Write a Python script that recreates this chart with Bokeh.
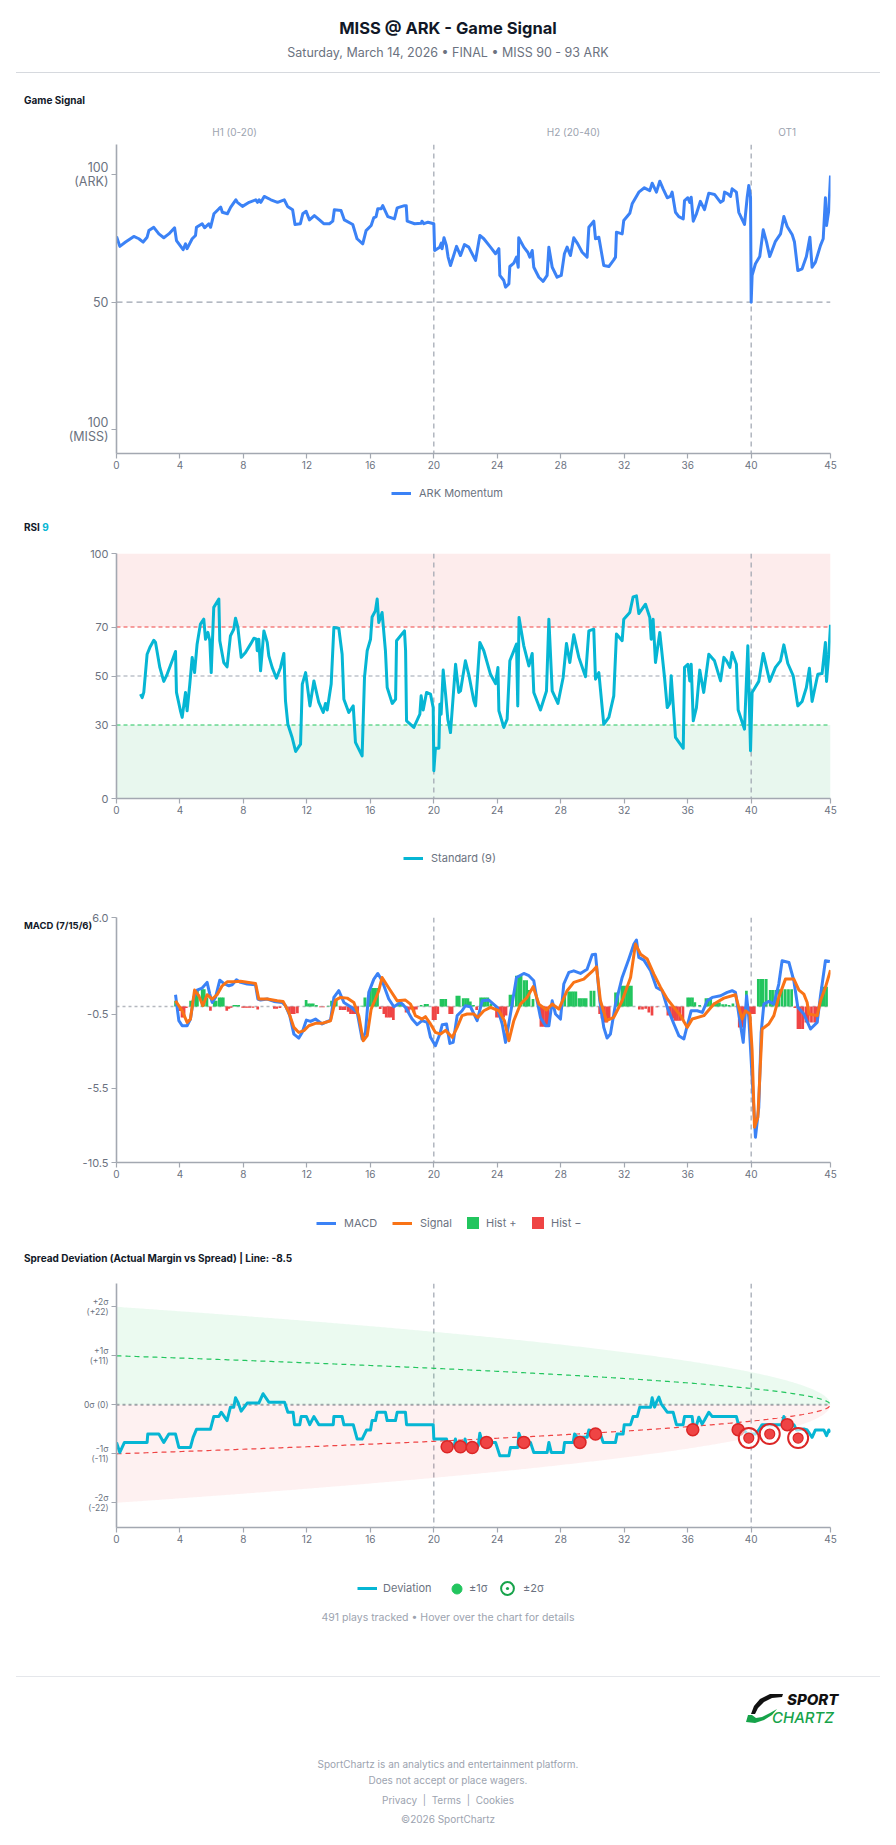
import numpy as np
from bokeh.plotting import figure
from bokeh.layouts import column
from bokeh.models import (Range1d, FixedTicker, Span, Legend, LegendItem, LinearAxis,
                          BoxAnnotation, PrintfTickFormatter, Div)
from bokeh.embed import file_html
from bokeh.resources import INLINE

# ---------------------------------------------------------------- data
TITLE = "MISS @ ARK - Game Signal"
SUBTITLE = "Saturday, March 14, 2026 \u2022 FINAL \u2022 MISS 90 - 93 ARK"
X_TICKS = [0, 4, 8, 12, 16, 20, 24, 28, 32, 36, 40, 45]
PERIOD_BREAKS = [20, 40]
PERIOD_LABELS = ["H1 (0-20)", "H2 (20-40)", "OT1"]
PERIOD_LABEL_X = [7.44, 28.8, 42.27]

MOMENTUM = [(0, 75.8), (0.21, 71.9), (0.57, 73.6), (0.88, 74.9), (1.09, 75.8), (1.41, 74.9), (1.68, 73.6),
            (1.93, 75.5), (2.04, 78.1), (2.35, 79.4), (2.67, 76.8), (2.98, 75.3), (3.30, 76.8), (3.66, 79.2),
            (3.78, 74.2), (4.20, 70.6), (4.35, 72.9), (4.45, 71.0), (4.77, 74.9), (4.98, 76.2), (5.04, 79.4),
            (5.40, 80.8), (5.55, 79.2), (5.82, 80.8), (5.93, 79.4), (6.14, 84.7), (6.46, 86.7), (6.57, 87.3),
            (6.67, 85.3), (6.99, 84.7), (7.20, 87.3), (7.52, 90.2), (7.62, 89.2), (7.94, 87.6), (8.36, 89.2),
            (8.78, 90.2), (8.89, 89.2), (8.99, 90.2), (9.10, 89.2), (9.31, 91.5), (9.73, 90.2), (10.15, 89.2),
            (10.57, 90.2), (10.78, 87.6), (11.10, 86.3), (11.25, 80.5), (11.59, 80.8), (11.74, 84.7),
            (11.95, 85.7), (12.16, 82.3), (12.47, 84.0), (12.79, 82.3), (13.06, 80.8), (13.42, 80.8),
            (13.63, 81.8), (13.73, 86.3), (14.15, 86.0), (14.36, 82.3), (14.89, 80.5), (15.16, 74.9),
            (15.52, 72.9), (15.73, 78.1), (16.05, 80.1), (16.21, 83.1), (16.36, 83.6), (16.47, 86.7),
            (16.68, 86.7), (16.78, 87.9), (17.10, 83.6), (17.52, 82.7), (17.69, 87.0), (18.15, 87.9),
            (18.26, 87.9), (18.32, 81.8), (18.79, 80.8), (19.21, 81.0), (19.25, 81.8), (19.38, 80.8),
            (19.63, 81.4), (20.00, 80.8), (20.05, 70.3), (20.37, 71.6), (20.47, 73.2), (20.52, 71.0),
            (20.64, 75.3), (20.79, 72.3), (20.90, 67.7), (21.05, 64.4), (21.43, 71.9), (21.68, 68.3),
            (21.93, 72.6), (22.20, 71.6), (22.63, 66.4), (22.90, 76.2), (23.15, 74.9), (23.57, 71.6),
            (23.89, 69.0), (24.10, 71.0), (24.16, 60.5), (24.41, 58.5), (24.52, 55.9), (24.73, 57.2),
            (24.79, 64.0), (25.04, 65.3), (25.21, 67.7), (25.32, 63.7), (25.35, 75.3), (25.67, 71.6),
            (25.92, 69.6), (26.05, 67.7), (26.20, 70.3), (26.30, 63.7), (26.62, 59.8), (26.89, 58.2),
            (27.14, 60.5), (27.25, 71.6), (27.46, 63.7), (27.77, 59.8), (28.03, 60.5), (28.23, 69.0),
            (28.40, 71.6), (28.61, 68.3), (28.82, 75.3), (29.07, 72.9), (29.35, 69.6), (29.66, 67.7),
            (29.77, 79.4), (30.08, 81.8), (30.19, 74.9), (30.40, 75.5), (30.71, 64.4), (31.03, 64.0),
            (31.34, 66.6), (31.45, 67.7), (31.51, 77.5), (31.87, 76.8), (31.97, 82.1), (32.35, 84.9),
            (32.50, 88.6), (32.92, 93.2), (33.27, 94.9), (33.61, 93.8), (33.76, 96.7), (34.03, 93.2),
            (34.24, 97.5), (34.45, 94.5), (34.71, 91.0), (34.91, 91.5), (35.02, 93.2), (35.23, 85.3),
            (35.44, 83.6), (35.72, 82.7), (35.80, 89.9), (36.01, 91.0), (36.13, 89.2), (36.22, 91.2),
            (36.35, 81.8), (36.55, 84.7), (36.80, 89.6), (37.06, 86.3), (37.33, 92.8), (37.69, 92.3),
            (38.07, 89.2), (38.24, 89.9), (38.32, 93.2), (38.53, 92.5), (38.70, 91.5), (38.80, 94.5),
            (39.07, 93.2), (39.22, 85.3), (39.58, 80.5), (39.75, 91.2), (39.85, 95.8), (39.96, 91.2),
            (40.00, 50.0), (40.06, 60.5), (40.27, 65.1), (40.54, 67.9), (40.76, 78.4), (40.97, 73.6),
            (41.17, 67.9), (41.53, 73.9), (41.85, 76.8), (42.06, 83.6), (42.27, 79.7), (42.58, 76.6),
            (42.73, 73.6), (42.94, 62.4), (43.21, 63.1), (43.48, 67.9), (43.70, 75.5), (43.84, 63.7),
            (44.05, 65.7), (44.37, 72.3), (44.54, 74.9), (44.68, 91.0), (44.75, 80.1), (44.89, 86.0),
            (45.00, 99.7)]

RSI = [(1.51, 42.6), (1.62, 41.2), (1.72, 43.3), (1.93, 58.9), (2.10, 61.6), (2.35, 64.6), (2.46, 63.7),
       (2.73, 53.5), (2.98, 47.8), (3.19, 50.7), (3.51, 56.2), (3.72, 60.0), (3.78, 43.3), (4.03, 35.8),
       (4.14, 33.1), (4.35, 43.3), (4.45, 35.8), (4.62, 46.7), (4.77, 57.6), (4.92, 51.4), (5.08, 63.0),
       (5.29, 71.2), (5.50, 73.2), (5.61, 65.0), (5.76, 67.8), (5.88, 64.4), (5.97, 51.4), (6.13, 78.0),
       (6.45, 81.4), (6.51, 64.4), (6.76, 55.5), (6.97, 53.7), (7.18, 66.4), (7.39, 69.1), (7.50, 73.6),
       (7.65, 69.8), (7.86, 57.6), (8.13, 59.6), (8.45, 63.0), (8.66, 65.4), (8.82, 65.0), (8.87, 60.3),
       (8.97, 65.0), (9.08, 52.1), (9.29, 68.4), (9.50, 63.7), (9.60, 58.2), (9.81, 53.5), (10.08, 49.1),
       (10.34, 53.5), (10.55, 59.2), (10.65, 39.9), (10.80, 30.3), (11.07, 24.9), (11.29, 19.2),
       (11.60, 22.2), (11.71, 46.7), (11.92, 51.4), (12.19, 37.8), (12.44, 48.0), (12.75, 39.2),
       (13.03, 35.1), (13.17, 38.8), (13.28, 36.1), (13.53, 46.7), (13.70, 69.8), (14.01, 69.5),
       (14.22, 58.9), (14.33, 40.5), (14.64, 35.1), (14.92, 37.8), (15.06, 22.9), (15.48, 17.4),
       (15.63, 49.4), (15.80, 60.3), (16.01, 65.0), (16.11, 74.1), (16.32, 76.6), (16.43, 81.4),
       (16.53, 71.8), (16.74, 75.9), (16.95, 60.3), (17.06, 45.3), (17.38, 38.8), (17.59, 40.5),
       (17.65, 64.4), (18.15, 68.4), (18.22, 60.3), (18.28, 31.7), (18.74, 29.0), (18.95, 32.0),
       (19.12, 34.4), (19.20, 41.9), (19.33, 36.1), (19.54, 43.3), (19.79, 42.6), (19.96, 37.1),
       (20.00, 11.3), (20.10, 20.5), (20.32, 20.5), (20.38, 38.5), (20.46, 34.4), (20.59, 52.4),
       (20.74, 42.6), (20.88, 32.4), (21.05, 26.9), (21.37, 54.8), (21.57, 43.3), (21.68, 43.9),
       (21.99, 56.2), (22.20, 50.7), (22.52, 39.9), (22.63, 37.8), (22.90, 63.7), (23.15, 60.3),
       (23.57, 50.7), (23.89, 46.9), (24.04, 53.5), (24.10, 35.8), (24.41, 29.0), (24.62, 32.4),
       (24.79, 56.2), (25.21, 63.0), (25.29, 37.8), (25.37, 73.9), (25.67, 62.3), (25.99, 54.1),
       (26.20, 59.2), (26.30, 43.3), (26.72, 36.1), (27.10, 43.9), (27.25, 73.2), (27.46, 43.9),
       (27.82, 38.8), (28.15, 49.4), (28.36, 63.3), (28.57, 55.5), (28.82, 66.8), (29.14, 57.6),
       (29.56, 49.7), (29.77, 68.4), (30.08, 69.1), (30.19, 48.7), (30.40, 51.4), (30.71, 30.3),
       (31.03, 33.1), (31.34, 41.9), (31.51, 67.1), (31.87, 64.4), (31.97, 73.2), (32.35, 75.9),
       (32.56, 82.3), (32.77, 82.7), (32.92, 75.5), (33.34, 79.3), (33.61, 73.9), (33.70, 65.0),
       (33.82, 73.2), (33.97, 55.5), (34.24, 67.8), (34.54, 49.4), (34.71, 37.1), (34.87, 38.8),
       (34.96, 50.1), (35.23, 24.9), (35.72, 20.5), (35.80, 53.5), (36.01, 54.8), (36.13, 48.0),
       (36.22, 54.8), (36.35, 31.7), (36.55, 37.1), (36.76, 52.4), (37.01, 43.3), (37.33, 58.9),
       (37.69, 56.2), (38.07, 48.0), (38.28, 57.6), (38.45, 56.2), (38.66, 53.5), (38.80, 59.6),
       (39.07, 54.8), (39.18, 36.1), (39.58, 28.3), (39.79, 62.3), (39.96, 19.5), (40.06, 43.3),
       (40.48, 47.8), (40.76, 59.2), (41.17, 47.8), (41.53, 53.5), (41.85, 56.2), (42.06, 62.7),
       (42.31, 55.1), (42.65, 50.1), (42.94, 37.8), (43.21, 39.6), (43.48, 45.3), (43.67, 53.2),
       (43.84, 39.6), (44.20, 50.7), (44.47, 51.0), (44.68, 63.7), (44.75, 47.8), (44.89, 58.9),
       (45.00, 70.9)]

MACD = [(3.72, 0.80), (3.82, -0.05), (3.93, -0.95), (4.14, -1.29), (4.45, -1.29), (4.66, -0.84), (4.87, 0.62),
        (5.08, 1.11), (5.40, 1.25), (5.71, 1.63), (5.88, 0.84), (6.03, 0.28), (6.24, 0.62), (6.51, 1.78),
        (6.76, 1.56), (7.08, 1.40), (7.29, 1.47), (7.56, 1.81), (7.82, 1.63), (8.24, 1.52), (8.76, 1.47),
        (8.91, 0.51), (9.08, 0.44), (9.50, 0.51), (9.92, 0.35), (10.44, 0.28), (10.65, 0.06), (10.92, -0.61),
        (11.18, -1.85), (11.49, -2.12), (11.70, -1.74), (11.97, -0.91), (12.23, -1.00), (12.54, -0.84),
        (12.96, -1.17), (13.49, -0.91), (13.70, 0.62), (14.01, 1.07), (14.33, 0.28), (14.75, -0.01),
        (15.17, -0.39), (15.48, -2.18), (15.69, -1.74), (15.90, 0.96), (16.22, 1.85), (16.47, 2.23),
        (16.74, 1.74), (17.16, 0.51), (17.48, -0.01), (17.90, 0.28), (18.21, -0.05), (18.63, -0.84),
        (18.95, -1.22), (19.26, -0.95), (19.58, -1.06), (19.79, -2.07), (20.10, -2.63), (20.38, -1.85),
        (20.53, -1.22), (20.80, -1.17), (21.01, -2.48), (21.22, -2.41), (21.47, -0.61), (21.78, -0.28),
        (21.99, 0.06), (22.31, -0.01), (22.73, -0.95), (23.05, 0.39), (23.47, 0.44), (23.99, -0.05),
        (24.31, -1.17), (24.52, -2.41), (24.83, -0.50), (25.21, 1.96), (25.67, 2.23), (25.99, 2.08),
        (26.30, 1.74), (26.51, 0.39), (26.72, -0.73), (27.04, -1.29), (27.25, -1.29), (27.46, 0.39),
        (27.67, -0.50), (27.98, -0.84), (28.19, 1.52), (28.51, 2.30), (28.82, 2.41), (29.24, 2.23),
        (29.66, 2.52), (29.98, 3.49), (30.19, 3.53), (30.46, 0.39), (30.71, -1.40), (30.92, -2.12),
        (31.13, -1.85), (31.45, 0.17), (31.87, 1.96), (32.29, 3.20), (32.61, 4.21), (32.77, 4.48),
        (32.92, 3.31), (33.24, 3.13), (33.66, 2.41), (34.03, 1.29), (34.39, 1.07), (34.71, -0.05),
        (35.13, -1.17), (35.44, -1.96), (35.76, -2.18), (35.97, -1.29), (36.22, -0.28), (36.60, -0.28),
        (36.92, -0.39), (37.23, 0.39), (37.55, 0.62), (38.07, 0.73), (38.49, 0.96), (38.80, 1.07),
        (39.01, 0.96), (39.22, -0.50), (39.50, -2.41), (39.71, 0.73), (39.85, -0.73), (40.06, -4.76),
        (40.27, -8.80), (40.48, -6.78), (40.63, -1.74), (40.80, 0.17), (41.11, 0.35), (41.43, 0.17),
        (41.74, 1.52), (41.95, 3.09), (42.38, 2.97), (42.69, 1.74), (42.94, -0.05), (43.32, -0.50),
        (43.74, -1.51), (44.16, -1.06), (44.37, 0.73), (44.68, 3.09), (44.96, 3.04)]

SIGNAL = [(3.72, 0.39), (4.14, -0.28), (4.45, -1.06), (4.66, -0.84), (4.92, 1.11), (5.19, 0.73), (5.44, 0.06),
          (5.71, 0.80), (6.03, 0.51), (6.34, 0.80), (6.66, 1.40), (6.97, 1.67), (7.39, 1.67), (7.82, 1.70),
          (8.34, 1.63), (8.76, 1.56), (8.97, 0.51), (9.50, 0.51), (10.13, 0.39), (10.50, 0.35), (10.86, -0.39),
          (11.18, -1.40), (11.49, -1.74), (11.81, -1.62), (12.12, -1.29), (12.54, -1.13), (12.96, -1.13),
          (13.49, -0.95), (13.80, 0.44), (14.12, 0.62), (14.54, 0.57), (14.96, 0.28), (15.27, -0.61),
          (15.55, -2.30), (15.80, -1.96), (16.05, -0.17), (16.32, 0.51), (16.53, 1.07), (16.74, 1.96),
          (17.16, 1.25), (17.69, 0.39), (18.21, 0.44), (18.53, 0.17), (18.84, -0.61), (19.26, -0.84),
          (19.47, -0.68), (19.79, -1.17), (20.10, -1.74), (20.42, -1.85), (20.74, -1.60), (21.16, -2.07),
          (21.47, -1.40), (21.78, -0.61), (22.10, -0.50), (22.52, -0.50), (22.77, -0.73), (23.15, -0.28),
          (23.57, -0.05), (24.10, -0.28), (24.45, -0.95), (24.73, -2.30), (25.04, -0.95), (25.46, 0.17),
          (25.88, 0.62), (26.26, 1.34), (26.62, 0.17), (27.10, -0.23), (27.46, 0.17), (27.88, -0.17),
          (28.40, 1.07), (28.82, 1.63), (29.45, 1.85), (29.98, 2.37), (30.25, 2.68), (30.50, 0.39),
          (30.88, -0.95), (31.34, -0.73), (31.87, 0.39), (32.40, 1.96), (32.71, 4.21), (33.03, 3.53),
          (33.45, 3.20), (33.87, 2.19), (34.29, 1.29), (34.71, 0.51), (35.13, -0.05), (35.55, -0.61),
          (35.97, -1.40), (36.29, -0.84), (37.02, -0.61), (37.65, 0.17), (38.28, 0.57), (39.01, 0.80),
          (39.22, -0.05), (39.43, -0.84), (39.64, -0.28), (39.92, -0.50), (40.06, -2.97), (40.21, -8.13),
          (40.42, -7.45), (40.69, -1.51), (41.11, -1.17), (41.43, -0.61), (41.74, 0.62), (42.16, 1.85),
          (42.69, 1.85), (43.01, 1.11), (43.32, 0.84), (43.53, 0.28), (43.63, -0.50), (44.16, -0.61),
          (44.37, 0.39), (44.68, 1.29), (45.00, 2.46)]

HIST = [(3.72, 0.39), (3.99, -0.30), (4.13, -0.73), (4.26, -0.73), (4.40, -0.10), (4.67, 0.39), (4.80, 0.39),
        (4.99, 1.10), (5.10, 1.10), (5.40, 1.17), (5.53, 1.17), (5.70, 0.62), (5.92, -0.28), (6.16, 0.39),
        (6.28, 0.39), (6.47, 0.62), (6.60, 0.62), (6.73, 0.62), (6.95, -0.28), (7.08, -0.15), (7.22, -0.08),
        (7.40, 0.10), (7.55, 0.10), (7.70, 0.10), (7.95, -0.08), (8.10, -0.08), (8.25, -0.08), (8.40, -0.08),
        (8.60, -0.08), (8.90, -0.20), (9.95, -0.15), (10.10, -0.15), (10.30, -0.10), (10.90, -0.50),
        (11.05, -0.50), (11.20, -0.50), (11.40, -0.45), (11.95, 0.44), (12.10, 0.21), (12.25, 0.21),
        (12.40, 0.21), (12.60, 0.10), (12.85, -0.05), (13.05, -0.05), (13.35, 0.05), (13.55, 0.39),
        (13.70, 0.39), (13.85, 0.44), (14.10, -0.23), (14.25, -0.23), (14.40, -0.23), (14.60, -0.35),
        (14.75, -0.50), (14.90, -0.50), (15.05, -0.50), (15.20, -0.50), (15.45, 0.05), (15.65, 0.62),
        (15.85, 0.62), (16.00, 1.25), (16.15, 1.25), (16.30, 1.25), (16.45, 1.25), (16.62, -0.17),
        (16.85, -0.50), (17.00, -0.73), (17.15, -0.73), (17.30, -0.73), (17.45, -0.90), (17.75, 0.28),
        (17.90, 0.28), (18.05, 0.20), (18.25, -0.39), (18.40, -0.39), (18.55, -0.20), (18.75, -0.39),
        (18.90, -0.20), (19.20, 0.10), (19.45, 0.17), (19.60, 0.17), (19.95, -0.90), (20.10, -0.90),
        (20.25, -0.50), (20.45, 0.51), (20.60, 0.51), (20.75, 0.51), (21.00, -0.50), (21.15, -0.50),
        (21.45, 0.73), (21.60, 0.73), (21.85, 0.57), (22.00, 0.57), (22.15, 0.57), (22.30, 0.35),
        (22.50, 0.10), (22.70, -0.23), (22.95, 0.62), (23.10, 0.62), (23.25, 0.62), (23.40, 0.62),
        (23.60, 0.20), (23.95, -0.73), (24.10, -0.73), (24.25, -0.73), (24.40, -0.73), (24.55, -0.60),
        (24.80, 0.80), (24.95, 0.80), (25.20, 2.07), (25.35, 2.07), (25.50, 2.07), (25.70, 1.78),
        (25.85, 1.78), (26.00, 1.11), (26.25, 0.51), (26.75, -1.35), (26.90, -1.35), (27.05, -1.35),
        (27.20, -1.35), (27.45, 0.10), (27.70, -0.10), (28.25, 0.73), (28.50, 1.02), (28.65, 1.02),
        (28.80, 1.02), (28.95, 1.02), (29.15, 0.57), (29.30, 0.57), (29.45, 0.57), (29.60, 0.57),
        (29.90, 1.07), (30.10, 1.07), (30.45, -0.50), (30.60, -0.80), (30.75, -1.07), (30.90, -1.07),
        (31.05, -0.80), (31.45, 0.95), (31.60, 0.95), (31.85, 1.40), (32.00, 1.40), (32.15, 1.40),
        (32.30, 1.40), (32.45, 1.40), (32.95, -0.20), (33.15, -0.20), (33.35, -0.15), (33.55, -0.40),
        (33.75, -0.60), (34.05, -0.05), (34.75, -0.60), (34.90, -0.60), (35.05, -0.80), (35.20, -0.95),
        (35.35, -0.95), (35.50, -0.95), (35.70, -0.95), (36.00, 0.62), (36.15, 0.62), (36.30, 0.62),
        (36.45, 0.30), (36.75, 0.10), (37.15, 0.57), (37.30, 0.57), (37.45, 0.57), (37.70, 0.28),
        (37.85, 0.28), (38.00, 0.28), (38.20, 0.15), (38.40, 0.15), (38.60, 0.10), (38.85, 0.20),
        (39.25, -1.40), (39.40, -1.40), (39.55, -1.40), (39.70, 1.07), (39.90, -0.50), (40.05, -0.50),
        (40.20, -0.50), (40.45, 1.85), (40.60, 1.85), (40.75, 1.85), (40.95, 1.85), (41.20, 1.11),
        (41.35, 1.11), (41.55, 1.11), (41.75, 1.17), (41.95, 1.17), (42.15, 1.17), (42.35, 1.17),
        (42.55, 1.17), (42.75, -0.10), (42.95, -1.51), (43.10, -1.51), (43.25, -1.51), (43.45, -1.07),
        (43.60, -1.07), (43.80, -1.07), (44.00, -1.07), (44.15, -1.07), (44.45, 1.33), (44.60, 1.33),
        (44.75, 1.33)]

SPREAD_LINE = -8.5
SIGMA0 = 11.0
GAME_LEN = 45.0
DEVIATION = [(0, -8.44), (0.21, -10.7), (0.5, -8.44), (1.93, -8.44), (1.97, -6.56), (2.67, -6.56), (2.98, -8.44),
             (3.3, -6.56), (3.72, -6.56), (3.93, -9.57), (4.66, -9.57), (4.83, -7.31), (5.04, -5.5), (5.92, -5.5),
             (6.13, -2.64), (6.45, -2.64), (6.6, -1.66), (6.97, -3.54), (7.18, -0.53), (7.39, -0.53), (7.5, 1.58),
             (7.65, 0.6), (7.86, -1.43), (8.24, 0.38), (8.97, 0.38), (9.24, 2.49), (9.6, 0.6), (10.59, 0.6),
             (10.8, -1.66), (11.13, -1.66), (11.22, -4.45), (11.55, -4.45), (11.64, -2.64), (11.97, -2.64),
             (12.18, -4.45), (12.44, -2.64), (12.75, -4.45), (13.66, -4.45), (13.7, -2.64), (14.22, -2.64),
             (14.33, -4.45), (14.92, -4.45), (15.17, -7.69), (15.48, -7.69), (15.76, -5.65), (16.01, -5.65),
             (16.11, -3.54), (16.32, -3.54), (16.43, -1.66), (16.95, -1.66), (17.06, -3.54), (17.58, -3.54),
             (17.69, -1.66), (18.21, -1.66), (18.28, -4.45), (19.96, -4.45), (20.0, -7.69), (20.8, -7.69),
             (20.9, -9.2), (21.3, -9.2), (21.36, -7.69), (21.45, -9.2), (21.9, -9.2), (21.97, -7.69),
             (22.05, -9.2), (22.8, -9.2), (22.9, -6.4), (23.05, -8.44), (23.89, -8.44), (24.16, -11.45),
             (24.73, -11.45), (24.83, -9.57), (25.3, -9.57), (25.36, -6.4), (25.57, -8.44), (26.09, -8.44),
             (26.3, -10.7), (27.14, -10.7), (27.25, -8.44), (27.4, -10.7), (28.16, -10.7), (28.24, -8.44),
             (28.78, -8.44), (28.87, -6.56), (29.03, -7.31), (29.66, -7.31), (29.77, -5.65), (30.5, -6.56),
             (30.67, -8.44), (31.45, -8.44), (31.55, -6.56), (31.93, -6.56), (32.0, -4.45), (32.4, -4.45),
             (32.56, -2.64), (32.82, -2.64), (32.98, -0.53), (33.66, -0.53), (33.76, 1.58), (33.91, -0.53),
             (34.03, 0.6), (34.18, 1.73), (34.33, 0.23), (34.71, -1.66), (35.08, -1.66), (35.29, -4.45),
             (35.71, -4.45), (35.8, -2.64), (36.28, -2.64), (36.35, -4.67), (36.55, -4.67), (36.7, -2.79),
             (36.91, -4.3), (37.06, -3.39), (37.33, -1.66), (37.55, -2.64), (39.07, -2.64), (39.22, -4.67),
             (39.5, -5.5), (39.75, -6.56), (40.27, -6.56), (40.48, -5.65), (40.69, -4.45), (41.95, -4.45),
             (42.06, -2.64), (42.17, -4.45), (42.69, -4.45), (42.86, -5.65), (43.32, -5.43), (43.53, -5.65),
             (43.84, -7.31), (44.05, -5.65), (44.58, -5.65), (44.75, -6.93), (44.89, -5.65), (45.0, -6.18)]
OUTLIERS_1SIG = [(20.84, -9.42), (21.68, -9.42), (22.42, -9.57), (23.32, -8.44), (25.67, -8.44),
                 (29.21, -8.44), (30.19, -6.56), (36.32, -5.58), (39.18, -5.58), (42.27, -4.45)]
OUTLIERS_2SIG = [(39.85, -7.46), (41.17, -6.56), (42.96, -7.46)]
PLAYS_TRACKED = 491

# ---------------------------------------------------------------- style
FONT = "Inter"
W = 896
FL, FR = 116, 830          # frame left / right (px)
AXIS_C = "#a3a8b1"
TICK_C = "#6b7280"
GRID_DASH = "#9ca3af"
BLUE = "#3b82f6"
CYAN = "#06b6d4"
ORANGE = "#f97316"
GREEN = "#22c55e"
RED = "#ef4444"
NAN = np.array([np.nan])


def split(pairs):
    a = np.array(pairs, dtype=float)
    return a[:, 0], a[:, 1]


def make_chart(h, top, bottom, y0, y1, yticks, overrides, ysize, yline_h=1.2):
    p = figure(width=W, height=h, x_range=Range1d(0, 45), y_range=Range1d(y0, y1),
               min_border_left=FL, min_border_right=W - FR, min_border_top=top,
               min_border_bottom=bottom, toolbar_location=None, output_backend="svg")
    p.outline_line_color = None
    p.grid.visible = False
    p.background_fill_color = "white"
    p.border_fill_color = "white"
    for ax in (p.xaxis[0], p.yaxis[0]):
        ax.axis_line_color = AXIS_C
        ax.axis_line_width = 1.6
        ax.major_tick_line_color = AXIS_C
        ax.major_tick_line_width = 1.2
        ax.major_tick_out = 5
        ax.major_tick_in = 0
        ax.minor_tick_out = 0
        ax.minor_tick_in = 0
        ax.major_label_text_font = FONT
        ax.major_label_text_color = TICK_C
    p.xaxis.ticker = FixedTicker(ticks=X_TICKS)
    p.xaxis.major_label_text_font_size = "10px"
    p.xaxis.major_label_standoff = 2
    p.yaxis.ticker = FixedTicker(ticks=yticks)
    if overrides:
        p.yaxis.major_label_overrides = overrides
    p.yaxis.major_label_text_font_size = ysize
    p.yaxis.major_label_text_line_height = yline_h
    p.yaxis.major_label_standoff = 3
    return p


def period_spans(p):
    for b in PERIOD_BREAKS:
        p.add_layout(Span(location=b, dimension="height", line_color=GRID_DASH,
                          line_dash="5 4", line_width=1.2, level="underlay"))


def legend_strip(h, cy, entries):
    """A thin plot holding legend rows; entries = (label, kind, style, left_px, glyph, standoff)."""
    p = figure(width=W, height=h, x_range=Range1d(0, 1), y_range=Range1d(0, 1),
               min_border_left=FL, min_border_right=W - FR, min_border_top=0, min_border_bottom=0,
               toolbar_location=None, output_backend="svg", x_axis_location=None, y_axis_location=None)
    p.grid.visible = False
    p.outline_line_color = None
    p.background_fill_color = "white"
    p.border_fill_color = "white"
    for label, kind, style, left_px, (gw, gh), standoff in entries:
        if kind == "line":
            r = p.line(NAN, NAN, **style)
        elif kind == "bar":
            r = p.vbar(x=NAN, top=NAN, bottom=0, width=0.1, **style)
        else:
            r = p.scatter(NAN, NAN, **style)
        leg = Legend(items=[LegendItem(label=label, renderers=[r])],
                     location=(left_px - FL, h - cy - gh / 2.0),
                     orientation="horizontal", glyph_width=gw, glyph_height=gh, label_height=gh,
                     label_standoff=standoff, padding=0, margin=0, spacing=0,
                     border_line_color=None, background_fill_alpha=0,
                     label_text_font=FONT, label_text_font_size="11px", label_text_color="#6b7280")
        p.add_layout(leg)
    return p


def strip(h, html, margin=(0, 0, 0, 0)):
    return Div(width=W, height=h, margin=margin,
               text='<div style="position:relative;width:%dpx;height:%dpx;font-family:Inter,'
                    'sans-serif;">%s</div>' % (W, h, html))


def at(left, cy, text, size, color, weight=400, lh=16, extra=""):
    return ('<div style="position:absolute;left:%spx;top:%spx;line-height:%dpx;font-size:%s;'
            'font-weight:%d;color:%s;white-space:nowrap;%s">%s</div>'
            % (left, cy - lh / 2.0, lh, size, weight, color, extra, text))


def centered(cy, text, size, color, weight=400, lh=16):
    return ('<div style="position:absolute;left:0;width:%dpx;text-align:center;top:%spx;'
            'line-height:%dpx;font-size:%s;font-weight:%d;color:%s;white-space:nowrap;">%s</div>'
            % (W, cy - lh / 2.0, lh, size, weight, color, text))


def hrule(y, color):
    return ('<div style="position:absolute;left:16px;width:864px;top:%spx;height:1px;'
            'background:%s;"></div>' % (y, color))


LINE3 = dict(line_width=3)

# ---------------------------------------------------------------- header (0..110)
header = strip(110,
               centered(28, TITLE, "16.5px", "#111827", 700, 20)
               + centered(53, SUBTITLE, "12.5px", "#6b7280", 400, 16)
               + hrule(71.5, "#d6d9de")
               + at(24, 100, "Game Signal", "10px", "#111827", 700, 14))

# ---------------------------------------------------------------- chart 1: momentum (110..475)
p1 = make_chart(365, 34, 22, -9.4, 111.9, [0, 50, 100],
                {0: "100\n(MISS)", 50: "50", 100: "100\n(ARK)"}, "12.5px", 0.95)
p1.add_layout(Span(location=50, dimension="width", line_color=GRID_DASH, line_dash="6 4",
                   line_width=1.2, level="underlay"))
period_spans(p1)
mt, mv = split(MOMENTUM)
p1.line(mt, mv, line_color=BLUE, line_width=3, line_join="round")
period_axis = LinearAxis(ticker=FixedTicker(ticks=PERIOD_LABEL_X),
                         major_label_overrides={x: t for x, t in zip(PERIOD_LABEL_X, PERIOD_LABELS)},
                         axis_line_color=None, major_tick_line_color=None, minor_tick_line_color=None,
                         major_tick_out=0, major_tick_in=0, minor_tick_out=0, minor_tick_in=0,
                         major_label_standoff=7, major_label_text_font=FONT,
                         major_label_text_font_size="10px", major_label_text_color="#9ca3af")
p1.add_layout(period_axis, "above")
leg1 = legend_strip(37, 18.3, [("ARK Momentum", "line", dict(line_color=BLUE, **LINE3), 391, (20, 14), 8)])

# ---------------------------------------------------------------- RSI title strip (512..540)
rsi_title = strip(28, at(24, 15, 'RSI <span style="color:%s">9</span>' % CYAN, "10px", "#111827", 700, 14))

# ---------------------------------------------------------------- chart 2: RSI (540..820)
p2 = make_chart(280, 13, 22, 0, 100, [0, 30, 50, 70, 100], None, "11px")
p2.add_layout(BoxAnnotation(bottom=70, top=100, fill_color="#fdecec", fill_alpha=1,
                            line_color=None, level="underlay"))
p2.add_layout(BoxAnnotation(bottom=0, top=30, fill_color="#e8f7ee", fill_alpha=1,
                            line_color=None, level="underlay"))
for lvl, col in ((70, RED), (50, GRID_DASH), (30, GREEN)):
    p2.add_layout(Span(location=lvl, dimension="width", line_color=col, line_dash="4 3",
                       line_width=1.2, level="underlay"))
period_spans(p2)
rt, rv = split(RSI)
p2.line(rt, rv, line_color=CYAN, line_width=3, line_join="round")
leg2 = legend_strip(80, 38.3, [("Standard (9)", "line", dict(line_color=CYAN, **LINE3), 403, (20, 14), 8)])

# ---------------------------------------------------------------- chart 3: MACD (900..1184)
p3 = make_chart(284, 17, 22, -10.5, 6.0, [-10.5, -5.5, -0.5, 6.0], None, "11px")
p3.yaxis.formatter = PrintfTickFormatter(format="%.1f")
p3.add_layout(Span(location=0, dimension="width", line_color="#b4b8bf", line_dash="3 3",
                   line_width=1.5, level="underlay"))
period_spans(p3)
ht, hv = split(HIST)
pos = hv >= 0
p3.vbar(x=ht[pos], top=hv[pos], bottom=0, width=0.17, fill_color=GREEN, line_color=None)
p3.vbar(x=ht[~pos], top=0, bottom=hv[~pos], width=0.17, fill_color=RED, line_color=None)
ct, cv = split(MACD)
st, sv = split(SIGNAL)
p3.line(ct, cv, line_color=BLUE, line_width=3, line_join="round")
p3.line(st, sv, line_color=ORANGE, line_width=3, line_join="round")
# section label drawn over the top-left corner of the MACD chart (no net height)
macd_title = strip(30, at(24, 25.5, "MACD (7/15/6)", "9.5px", "#111827", 700, 13), margin=(-284, 0, 254, 0))
leg3 = legend_strip(56, 38.7, [
    ("MACD", "line", dict(line_color=BLUE, **LINE3), 316, (20, 14), 8),
    ("Signal", "line", dict(line_color=ORANGE, **LINE3), 392, (20, 14), 8),
    ("Hist +", "bar", dict(fill_color=GREEN, line_color=None), 465, (15, 15), 6),
    ("Hist \u2212", "bar", dict(fill_color=RED, line_color=None), 530, (15, 15), 6)])

# ---------------------------------------------------------------- spread title strip (1240..1270)
spread_title = strip(30, at(24, 17.5, "Spread Deviation (Actual Margin vs Spread) | Line: %s" % SPREAD_LINE,
                            "10px", "#111827", 700, 14))

# ---------------------------------------------------------------- chart 4: spread deviation (1270..1549)
p4 = make_chart(279, 13, 22, -27.55, 27.24, [-22, -11, 0, 11, 22],
                {22: "+2\u03c3\n(+22)", 11: "+1\u03c3\n(+11)", 0: "0\u03c3 (0)",
                 -11: "-1\u03c3\n(-11)", -22: "-2\u03c3\n(-22)"}, "8.5px", 0.95)
p4.add_layout(Span(location=0, dimension="width", line_color="#a3a8b1", line_dash="3 3",
                   line_width=2, level="underlay"))
period_spans(p4)
band_t = np.linspace(0, GAME_LEN, 361)
sig = SIGMA0 * np.sqrt((GAME_LEN - band_t) / GAME_LEN)
p4.varea(x=band_t, y1=0, y2=2 * sig, fill_color=GREEN, fill_alpha=0.09)
p4.varea(x=band_t, y1=-2 * sig, y2=0, fill_color=RED, fill_alpha=0.075)
p4.line(band_t, sig, line_color=GREEN, line_dash="5 4", line_width=1.2)
p4.line(band_t, -sig, line_color=RED, line_dash="5 4", line_width=1.2)
dt, dv = split(DEVIATION)
p4.line(dt, dv, line_color=CYAN, line_width=3, line_join="round")
o1t, o1v = split(OUTLIERS_1SIG)
p4.scatter(o1t, o1v, size=12, marker="circle", fill_color=RED, line_color="#dc2626", line_width=1.5)
o2t, o2v = split(OUTLIERS_2SIG)
p4.scatter(o2t, o2v, size=20, marker="circle", fill_color="white", fill_alpha=0.6,
           line_color="#dc2626", line_width=2)
p4.scatter(o2t, o2v, size=10, marker="circle", fill_color=RED, line_color="#dc2626", line_width=1.2)
leg4 = legend_strip(57, 39, [
    ("Deviation", "line", dict(line_color=CYAN, **LINE3), 357, (20, 14), 6),
    ("\u00b11\u03c3", "scatter", dict(marker="circle", fill_color=GREEN, line_color=GREEN), 444, (25, 25), 0),
    ("\u00b12\u03c3", "scatter", dict(marker="circle_dot", fill_color="white", line_color="#16a34a",
                                       line_width=2), 491, (32, 32), 0)])

# ---------------------------------------------------------------- footer (1606..1845)
logo_svg = ('<svg style="position:absolute;left:744px;top:85px;" width="40" height="36">'
            '<polygon points="26,3 39,3 38,6 28,7 20,11 14,17 11,23 7,23 10,15 16,8" fill="#111111"/>'
            '<polygon points="2,31 4,24 8,24 12,27 18,26 26,22 33,18 28,24 20,29 11,32" fill="#16a34a"/>'
            '</svg>')
footer = strip(239,
               centered(12.3, "%d plays tracked \u2022 Hover over the chart for details" % PLAYS_TRACKED,
                        "10.5px", "#9ca3af", 400, 14)
               + hrule(69.7, "#e5e7eb")
               + logo_svg
               + at(787, 93.5, "SPORT", "15px", "#111111", 800, 14, "font-style:italic;")
               + at(772, 111.5, "CHARTZ", "15px", "#16a34a", 500, 14, "font-style:italic;")
               + centered(157.7, "SportChartz is an analytics and entertainment platform.", "10px", "#9ca3af", 400, 14)
               + centered(173.7, "Does not accept or place wagers.", "10px", "#9ca3af", 400, 14)
               + centered(193.7, "Privacy &nbsp;|&nbsp; Terms &nbsp;|&nbsp; Cookies", "10px", "#9ca3af", 400, 14)
               + centered(213.3, "\u00a92026 SportChartz", "10px", "#9ca3af", 400, 14))

layout = column(header, p1, leg1, rsi_title, p2, leg2, p3, macd_title, leg3, spread_title, p4, leg4,
                footer, spacing=0)
open("out.html", "w").write(file_html(layout, INLINE))
